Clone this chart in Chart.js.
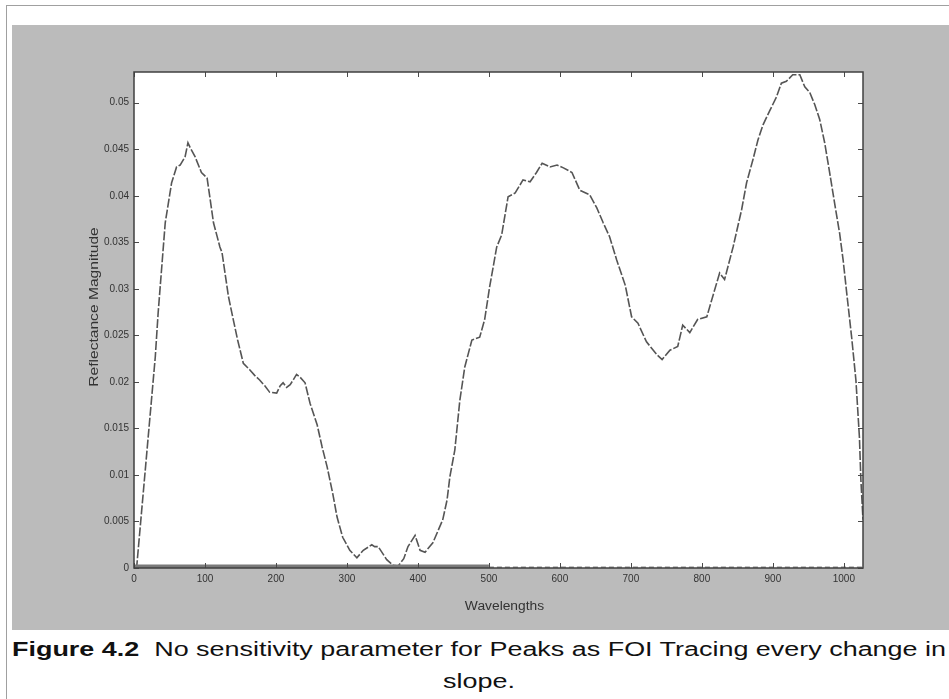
<!DOCTYPE html>
<html>
<head>
<meta charset="utf-8">
<script src="https://cdn.jsdelivr.net/npm/chart.js@4/dist/chart.umd.min.js"></script>
<style>
  html, body { margin: 0; padding: 0; background: #fff; width: 949px; height: 699px; overflow: hidden;
    font-family: "Liberation Sans", Arial, sans-serif; }
  #frameTop { position: absolute; left: 7px; top: 5px; width: 942px; height: 1px; background: #a0a0a0; }
  #frameLeft { position: absolute; left: 6px; top: 5px; width: 1px; height: 694px; background: #a0a0a0; }
  #panel { position: absolute; left: 12px; top: 25px; width: 937px; height: 605px; background: #bbbbbb; }
  #wrap { position: absolute; left: 0; top: 0; width: 949px; height: 630px; }
  .cap { position: absolute; font-size: 20px; line-height: 22px; color: #111; white-space: nowrap; }
  #l1 { left: 12px; top: 638px; transform-origin: left top; }
  #l2 { left: 12px; top: 670px; width: 934px; text-align: center; }
</style>
</head>
<body>
<div id="frameTop"></div>
<div id="frameLeft"></div>
<div id="panel"></div>
<div id="wrap"><canvas id="c" width="949" height="630"></canvas></div>
<div class="cap" id="l1"><b>Figure 4.2</b>&nbsp; No sensitivity parameter for Peaks as FOI Tracing every change in</div>
<div class="cap" id="l2">slope.</div>
<script>
// Reflectance spectrum: wavelength index and magnitude
const wavelength = [0, 4, 30, 34, 44, 53, 60, 65, 72, 76, 79, 86, 95, 103, 112, 121, 124, 133, 139, 146,
  154, 163, 170, 177, 184, 191, 201, 206, 210, 215, 220, 225, 229, 234, 241, 248, 258, 265, 272, 280,
  286, 294, 304, 314, 323, 335, 339, 344, 356, 365, 372, 380, 386, 396, 403, 410, 421, 435, 441, 445,
  452, 459, 466, 476, 487, 494, 501, 511, 518, 527, 537, 548, 558, 567, 575, 586, 596, 605, 617, 628,
  642, 652, 661, 670, 680, 692, 701, 710, 722, 737, 744, 755, 766, 773, 783, 794, 807, 815, 825, 832,
  844, 856, 863, 872, 879, 886, 896, 905, 912, 919, 928, 938, 945, 952, 959, 966, 973, 980, 987, 994,
  999, 1004, 1011, 1017, 1022, 1024, 1027];
const reflectance = [0, 0.0003, 0.0227, 0.0274, 0.0371, 0.0414, 0.0431, 0.0433, 0.0442, 0.0457, 0.0452,
  0.0442, 0.0425, 0.0419, 0.0371, 0.0345, 0.0339, 0.0292, 0.0270, 0.0245,
  0.0220, 0.0213, 0.0207, 0.0202, 0.0196, 0.0189, 0.0188, 0.0196, 0.0199, 0.0194, 0.0197, 0.0203, 0.0208,
  0.0205, 0.0199, 0.0177, 0.0154, 0.0130, 0.0109, 0.0080,
  0.0055, 0.0033, 0.0019, 0.0011, 0.0019, 0.0025, 0.0023, 0.0023, 0.0009, 0.0003, 0.0002, 0.0010, 0.0023,
  0.0035, 0.0019, 0.0017, 0.0027, 0.0052, 0.0073, 0.0098,
  0.0127, 0.0180, 0.0216, 0.0245, 0.0248, 0.0267, 0.0302, 0.0345, 0.0358, 0.0399, 0.0403, 0.0417, 0.0415,
  0.0425, 0.0435, 0.0431, 0.0433, 0.0430, 0.0425, 0.0406,
  0.0401, 0.0387, 0.0371, 0.0356, 0.0331, 0.0304, 0.0270, 0.0263, 0.0243, 0.0229, 0.0224, 0.0234, 0.0238,
  0.0261, 0.0253, 0.0267, 0.0270, 0.0291, 0.0317, 0.0310,
  0.0345, 0.0385, 0.0414, 0.0439, 0.0460, 0.0476, 0.0492, 0.0506, 0.0521, 0.0523, 0.0530, 0.0530, 0.0517,
  0.0511, 0.0498, 0.0482, 0.0457, 0.0425, 0.0392, 0.0360,
  0.0331, 0.0296, 0.0248, 0.0202, 0.0140, 0.0095, 0.0052];

// Flat traces along zero (detected change points)
const baseA_x = [0, 500];
const baseA_y = [0, 0];
const baseB_x = [500, 1027];
const baseB_y = [0, 0];

const xTicks = [0, 100, 200, 300, 400, 500, 600, 700, 800, 900, 1000];
const yTicks = [0, 0.005, 0.01, 0.015, 0.02, 0.025, 0.03, 0.035, 0.04, 0.045, 0.05];
const xLimit = [0, 1027];
const yLimit = [0, 0.0533];
const xTitle = 'Wavelengths';
const yTitle = 'Reflectance Magnitude';

const pts = (xs, ys) => xs.map((x, i) => ({ x: x, y: ys[i] }));

const axesPlugin = {
  id: 'matlabAxes',
  beforeDatasetsDraw(chart) {
    const { ctx, chartArea: a } = chart;
    ctx.save();
    ctx.fillStyle = '#ffffff';
    ctx.fillRect(a.left, a.top, a.right - a.left, a.bottom - a.top);
    ctx.restore();
  },
  afterDatasetsDraw(chart) {
    const { ctx, chartArea: a, scales } = chart;
    ctx.save();
    ctx.strokeStyle = '#4a4a4a';
    ctx.lineWidth = 1;
    const t = 5;
    ctx.beginPath();
    scales.x.ticks.forEach(tk => {
      const px = Math.round(scales.x.getPixelForValue(tk.value)) + 0.5;
      ctx.moveTo(px, a.bottom); ctx.lineTo(px, a.bottom - t);
      ctx.moveTo(px, a.top); ctx.lineTo(px, a.top + t);
    });
    scales.y.ticks.forEach(tk => {
      const py = Math.round(scales.y.getPixelForValue(tk.value)) + 0.5;
      ctx.moveTo(a.left, py); ctx.lineTo(a.left + t, py);
      ctx.moveTo(a.right, py); ctx.lineTo(a.right - t, py);
    });
    ctx.stroke();
    ctx.lineWidth = 1.5;
    ctx.strokeStyle = '#404040';
    ctx.strokeRect(a.left, a.top, a.right - a.left, a.bottom - a.top);

    ctx.fillStyle = '#333';
    ctx.font = '12px "Liberation Sans", Arial, sans-serif';
    ctx.textAlign = 'center';
    ctx.textBaseline = 'middle';
    ctx.save();
    ctx.translate((a.left + a.right) / 2 + 6, 607);
    ctx.scale(1.15, 1);
    ctx.fillText(xTitle, 0, 0);
    ctx.restore();
    ctx.translate(95, 307);
    ctx.rotate(-Math.PI / 2);
    ctx.scale(1.3, 1);
    ctx.fillText(yTitle, 0, 0);
    ctx.restore();
  }
};

new Chart(document.getElementById('c'), {
  type: 'line',
  data: {
    datasets: [
      { data: pts(baseA_x, baseA_y), borderColor: '#7a7a7a', borderWidth: 7, pointRadius: 0 },
      { data: pts(baseB_x, baseB_y), borderColor: '#8a8a8a', borderWidth: 3, borderDash: [5, 3], pointRadius: 0 },
      { data: pts(wavelength, reflectance), borderColor: '#555555', borderWidth: 1.6,
        borderDash: [9, 2], pointRadius: 0, tension: 0 }
    ]
  },
  options: {
    responsive: false,
    animation: false,
    events: [],
    layout: { padding: { left: 74, right: 86, top: 72, bottom: 22 } },
    plugins: { legend: { display: false }, tooltip: { enabled: false } },
    scales: {
      x: {
        type: 'linear', min: xLimit[0], max: xLimit[1],
        afterBuildTicks: s => { s.ticks = xTicks.map(v => ({ value: v })); },
        afterFit: s => { s.height = 40; },
        grid: { display: false, drawTicks: false },
        border: { display: false },
        ticks: { color: '#333', font: { size: 10, family: '"Liberation Sans", Arial, sans-serif' },
          padding: 5, maxRotation: 0, autoSkip: false, callback: v => String(v) }
      },
      y: {
        type: 'linear', min: yLimit[0], max: yLimit[1],
        afterBuildTicks: s => { s.ticks = yTicks.map(v => ({ value: v })); },
        afterFit: s => { s.width = 60; },
        grid: { display: false, drawTicks: false },
        border: { display: false },
        ticks: { color: '#333', font: { size: 10, family: '"Liberation Sans", Arial, sans-serif' },
          padding: 5, autoSkip: false, callback: v => String(parseFloat(Number(v).toFixed(4))) }
      }
    }
  },
  plugins: [axesPlugin]
});

// Stretch the first caption line across the panel width
const l1 = document.getElementById('l1');
const w = l1.getBoundingClientRect().width;
const k = 934 / w;
l1.style.transform = 'scaleX(' + k + ')';
document.getElementById('l2').style.transform = 'scaleX(' + k + ')';
</script>
</body>
</html>
